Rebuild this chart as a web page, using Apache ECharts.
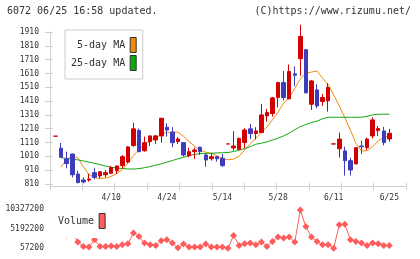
<!DOCTYPE html>
<html>
<head>
<meta charset="utf-8">
<script src="https://cdn.jsdelivr.net/npm/echarts@6/dist/echarts.min.js"></script>
<style>
  html, body { margin: 0; padding: 0; background: #fff; }
  #chart { width: 420px; height: 259px; }
</style>
</head>
<body>
<div id="chart"></div>
<script>
// trading days shown (61)
const dates = [
  "3/27", "3/28", "3/29", "4/1", "4/2", "4/3", "4/4", "4/5", "4/8", "4/9",
  "4/10", "4/11", "4/12", "4/15", "4/16", "4/17", "4/18", "4/19", "4/22", "4/23",
  "4/24", "4/26", "4/30", "5/1", "5/2", "5/7", "5/8", "5/9", "5/10", "5/13",
  "5/14", "5/15", "5/16", "5/17", "5/20", "5/21", "5/22", "5/23", "5/24", "5/27",
  "5/28", "5/29", "5/30", "5/31", "6/3", "6/4", "6/5", "6/6", "6/7", "6/10",
  "6/11", "6/12", "6/13", "6/14", "6/17", "6/18", "6/19", "6/20", "6/21", "6/24",
  "6/25"
];

const openP = [
  1156, 1069, 991, 1027, 882, 839, 839, 892, 868, 877,
  888, 906, 943, 969, 1088, 1198, 1051, 1117, 1129, 1158,
  1221, 1185, 1117, 1109, 1015, 1044, 1076, 1020, 993, 1008,
  996, 1100, 1071, 1061, 1110, 1209, 1175, 1182, 1303, 1320,
  1436, 1544, 1426, 1607, 1717, 1782, 1387, 1491, 1407, 1412,
  1100, 1065, 1049, 979, 955, 1085, 1073, 1158, 1197, 1194,
  1136
];
const closeP = [
  1156, 1004, 958, 877, 820, 825, 846, 858, 899, 892,
  928, 940, 1008, 1078, 1209, 1044, 1109, 1158, 1158, 1286,
  1201, 1109, 1136, 1020, 1044, 1056, 1044, 984, 1008, 993,
  943, 1100, 1085, 1140, 1201, 1175, 1194, 1310, 1327, 1433,
  1544, 1436, 1624, 1597, 1878, 1470, 1556, 1375, 1436, 1508,
  1100, 1135, 979, 911, 1073, 1080, 1135, 1274, 1211, 1110,
  1177
];
const lowP = [
  1156, 1000, 924, 858, 815, 815, 827, 844, 851, 858,
  882, 882, 924, 960, 1080, 1040, 1044, 1085, 1100, 1109,
  1153, 1076, 1100, 1008, 1003, 991, 1020, 935, 979, 972,
  935, 1100, 1051, 1056, 1068, 1135, 1132, 1182, 1262, 1298,
  1364, 1414, 1426, 1518, 1594, 1465, 1346, 1358, 1375, 1334,
  1100, 1001, 871, 871, 955, 1027, 1056, 1140, 1158, 1090,
  1117
];
const highP = [
  1156, 1107, 1044, 1030, 906, 858, 882, 925, 899, 911,
  940, 945, 1020, 1085, 1254, 1212, 1153, 1160, 1165, 1288,
  1250, 1221, 1149, 1109, 1073, 1073, 1080, 1032, 1032, 1008,
  1027, 1100, 1192, 1146, 1214, 1245, 1221, 1390, 1354, 1440,
  1550, 1629, 1675, 1661, 1963, 1786, 1563, 1532, 1462, 1539,
  1100, 1182, 1080, 1001, 1073, 1124, 1146, 1293, 1230, 1223,
  1209
];

// moving averages as drawn
const ma5 = [
  null, 931, 990, 1008, 1000, 935, 878, 856, 850, 853,
  865, 885, 915, 960, 1015, 1060, 1098, 1120, 1142, 1170,
  1183, 1186, 1185, 1155, 1118, 1082, 1056, 1040, 1032, 1015,
  995, 985, 990, 1012, 1055, 1100, 1140, 1180, 1222, 1275,
  1330, 1395, 1435, 1500, 1570, 1612, 1620, 1628, 1575, 1530,
  1455, 1375, 1290, 1200, 1105, 1050, 1050, 1080, 1122, 1148,
  1160
];
const ma25 = [
  null, 1000, 995, 990, 985, 977, 968, 960, 950, 940,
  932, 926, 922, 919, 918, 921, 928, 936, 946, 956,
  968, 980, 992, 1003, 1015, 1025, 1030, 1032, 1033, 1035,
  1036, 1038, 1045, 1055, 1066, 1080, 1098, 1105, 1115, 1128,
  1142, 1158, 1178, 1203, 1225, 1240, 1255, 1265, 1282, 1293,
  1293, 1293, 1293, 1293, 1293, 1293, 1300, 1310, 1315, 1315,
  1315
];

const volume = [
  null, 4500000, 3400000, 4200000, 1620000, 470000, 320000, 2230000, 470000, 470000,
  600000, 470000, 920000, 1180000, 3980000, 3090000, 1360000, 920000, 740000, 1960000,
  2230000, 1360000, 100000, 1100000, 320000, 320000, 320000, 1100000, 320000, 320000,
  320000, 0, 3350000, 740000, 1180000, 1360000, 920000, 1620000, 470000, 1780000,
  2930000, 2670000, 2930000, 1620000, 10070000, 5700000, 2930000, 1780000, 920000, 920000,
  0, 6150000, 6330000, 2230000, 1780000, 1360000, 740000, 1360000, 1180000, 740000,
  740000
];

const priceTicks = { min: 810, max: 1910, step: 100 };
const volTicks = { min: 57200, max: 10327200, step: 5135000 };
const labelEvery = 10;

const MONO = "DejaVu Sans Mono";
const UP = "#d20000";
const DOWN = "#3c3cbc";
const MA5C = "#f08c0a";
const MA25C = "#12a812";
const VOLC = "#ff5c5c";
const AXIS = "#d0d0d0";
const plain = (v) => String(v);

const candles = dates.map((d, i) => [openP[i], closeP[i], lowP[i], highP[i]]);

const chart = echarts.init(document.getElementById("chart"));

const hiddenAxis = {
  axisLine: { show: false },
  axisTick: { show: false },
  axisLabel: { show: false },
  splitLine: { show: false }
};

const option = {
  animation: false,
  title: [
    {
      text: "6072 06/25 16:58 updated.",
      left: 7, top: 6, padding: 0,
      textStyle: { fontFamily: MONO, fontSize: 10, fontWeight: "normal", color: "#333" }
    },
    {
      text: "(C)https://www.rizumu.net/",
      right: 9, top: 6, padding: 0,
      textStyle: { fontFamily: MONO, fontSize: 10, fontWeight: "normal", color: "#333" }
    }
  ],
  legend: [
    {
      data: [
        { name: "5-day MA", icon: "rect" },
        { name: "25-day MA", icon: "rect" }
      ],
      orient: "vertical",
      align: "right",
      left: 65, top: 30,
      itemWidth: 6, itemHeight: 15, itemGap: 2,
      padding: [7, 6, 8, 6],
      backgroundColor: "#fff",
      borderColor: "#cccccc",
      borderWidth: 1,
      selectedMode: false,
      itemStyle: { borderColor: "#333", borderWidth: 1 },
      textStyle: { fontFamily: MONO, fontSize: 10, color: "#333" }
    },
    {
      data: [{ name: "Volume", icon: "rect" }],
      orient: "vertical",
      align: "right",
      left: 55, top: 209,
      itemWidth: 6, itemHeight: 15,
      padding: [4, 3, 9, 3],
      backgroundColor: "#fff",
      selectedMode: false,
      itemStyle: { borderColor: "#333", borderWidth: 1 },
      textStyle: { fontFamily: MONO, fontSize: 10, color: "#333" }
    }
  ],
  grid: [
    { left: 50, right: 14, top: 32, height: 152 },
    { left: 50, right: 14, top: 209, height: 39 }
  ],
  xAxis: [
    {
      type: "category", gridIndex: 0, position: "bottom",
      data: dates, boundaryGap: false, min: -1, max: 63,
      axisLine: { show: false }, axisTick: { show: false }, splitLine: { show: false },
      axisLabel: {
        interval: (idx) => idx > 0 && idx % labelEvery === 0,
        fontFamily: MONO, fontSize: 8, color: "#333", margin: 10
      }
    },
    {
      type: "value", gridIndex: 0, position: "bottom", offset: 2,
      min: 0, max: 11, interval: 1,
      axisLine: { show: true, lineStyle: { color: AXIS } },
      axisTick: { show: true, length: 4, lineStyle: { color: AXIS } },
      axisLabel: { show: false }, splitLine: { show: false }
    },
    {
      type: "value", gridIndex: 0, position: "bottom", offset: 2,
      min: 0, max: 11, interval: 1,
      axisLine: { show: false },
      axisTick: { show: true, inside: true, length: 3, lineStyle: { color: AXIS } },
      axisLabel: { show: false }, splitLine: { show: false }
    },
    Object.assign({
      type: "category", gridIndex: 1, data: dates, boundaryGap: false, min: -1, max: 63
    }, hiddenAxis)
  ],
  yAxis: [
    {
      type: "value", gridIndex: 0, position: "left",
      min: priceTicks.min, max: priceTicks.max, interval: priceTicks.step,
      axisLine: { show: true, lineStyle: { color: AXIS } },
      axisTick: { show: true, length: 5, lineStyle: { color: AXIS } },
      axisLabel: { fontFamily: MONO, fontSize: 8, color: "#333", margin: 11, formatter: plain },
      splitLine: { show: false }
    },
    {
      type: "value", gridIndex: 0, position: "left",
      min: priceTicks.min, max: priceTicks.max, interval: priceTicks.step,
      axisLine: { show: false },
      axisTick: { show: true, inside: true, length: 3, lineStyle: { color: AXIS } },
      axisLabel: { show: false }, splitLine: { show: false }
    },
    {
      type: "value", gridIndex: 1,
      min: volTicks.min, max: volTicks.max, interval: volTicks.step,
      axisLine: { show: false }, axisTick: { show: false }, splitLine: { show: false },
      axisLabel: { fontFamily: MONO, fontSize: 8, color: "#333", margin: 6, formatter: plain }
    }
  ],
  series: [
    {
      name: "5-day MA", type: "line", xAxisIndex: 0, yAxisIndex: 0,
      data: ma5, symbol: "none", z: 2,
      itemStyle: { color: MA5C },
      lineStyle: { color: MA5C, width: 1 }
    },
    {
      name: "25-day MA", type: "line", xAxisIndex: 0, yAxisIndex: 0,
      data: ma25, symbol: "none", z: 2,
      itemStyle: { color: MA25C },
      lineStyle: { color: MA25C, width: 1 }
    },
    {
      name: "price", type: "candlestick", xAxisIndex: 0, yAxisIndex: 0,
      data: candles, barWidth: 4, clip: false, z: 3,
      itemStyle: {
        color: UP, color0: DOWN,
        borderColor: UP, borderColor0: DOWN, borderColorDoji: UP,
        borderWidth: 1
      }
    },
    {
      name: "Volume", type: "line", xAxisIndex: 3, yAxisIndex: 2,
      data: volume, symbol: "diamond", symbolSize: 7, showSymbol: true, showAllSymbol: true,
      clip: false,
      itemStyle: { color: VOLC },
      lineStyle: { color: VOLC, width: 1 }
    }
  ]
};

chart.setOption(option);
window.onresize = chart.resize;
</script>
</body>
</html>
